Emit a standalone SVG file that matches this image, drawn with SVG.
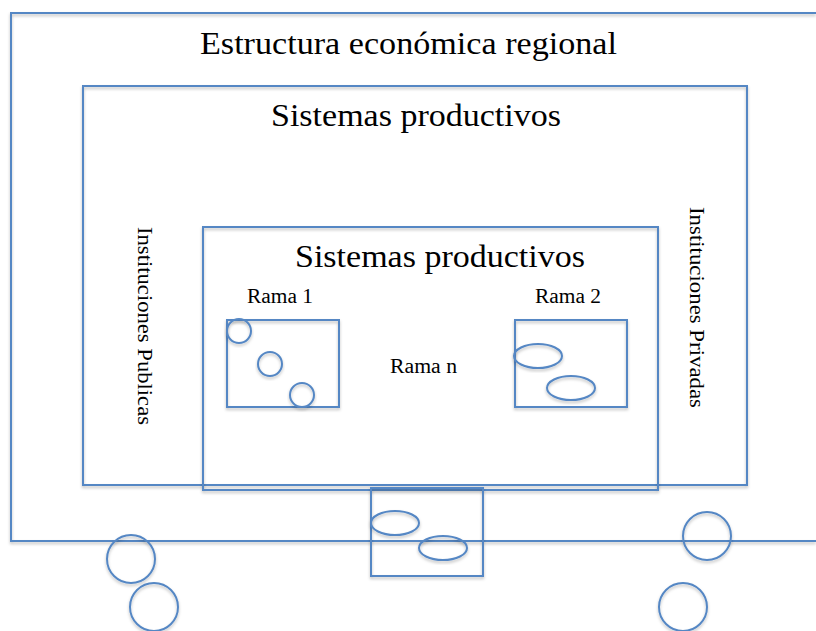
<svg xmlns="http://www.w3.org/2000/svg" width="816" height="631" viewBox="0 0 816 631">
<defs>
<filter id="sh" x="-10%" y="-10%" width="120%" height="130%">
<feDropShadow dx="0" dy="2" stdDeviation="1.5" flood-color="#000" flood-opacity="0.25"/>
</filter>
</defs>
<style>
.s{fill:none;stroke:#5587C4;stroke-width:2;filter:url(#sh)}
.t{font-family:"Liberation Serif","Times New Roman",serif;fill:#000}
.big{font-size:32px}
.sm{font-size:20px}
</style>
<rect width="816" height="631" fill="#fff"/>
<g id="estructura">
<path class="s" d="M816,13 H11 V541 H816"/>
<text class="t big" x="200" y="54" textLength="417" lengthAdjust="spacingAndGlyphs">Estructura económica regional</text>
</g>
<g id="sistemas-outer">
<rect class="s" x="83" y="86" width="664" height="399"/>
<text class="t big" x="271" y="126" textLength="290" lengthAdjust="spacingAndGlyphs">Sistemas productivos</text>
</g>
<g id="inst-publicas">
<text class="t sm" transform="translate(138,227) rotate(90)" textLength="198" lengthAdjust="spacingAndGlyphs">Instituciones Publicas</text>
</g>
<g id="inst-privadas">
<text class="t sm" transform="translate(690,207) rotate(90)" textLength="201" lengthAdjust="spacingAndGlyphs">Instituciones Privadas</text>
</g>
<g id="sistemas-inner">
<rect class="s" x="203" y="227" width="455" height="263"/>
<text class="t big" x="295" y="267" textLength="290" lengthAdjust="spacingAndGlyphs">Sistemas productivos</text>
</g>
<g id="rama1">
<text class="t sm" x="247" y="303" textLength="66" lengthAdjust="spacingAndGlyphs">Rama 1</text>
<rect class="s" x="227" y="320" width="112" height="87"/>
<circle class="s" cx="239" cy="331" r="12"/>
<circle class="s" cx="270" cy="364" r="12"/>
<circle class="s" cx="302" cy="395" r="12"/>
</g>
<g id="rama2">
<text class="t sm" x="535" y="303" textLength="66" lengthAdjust="spacingAndGlyphs">Rama 2</text>
<rect class="s" x="515" y="320" width="112" height="87"/>
<ellipse class="s" cx="538" cy="356" rx="24" ry="12"/>
<ellipse class="s" cx="571" cy="388" rx="24" ry="12"/>
</g>
<g id="raman">
<text class="t sm" x="390" y="373" textLength="67" lengthAdjust="spacingAndGlyphs">Rama n</text>
</g>
<g id="rama-bottom">
<rect class="s" x="371" y="488" width="112" height="88"/>
<ellipse class="s" cx="395" cy="523" rx="24" ry="12"/>
<ellipse class="s" cx="443" cy="548" rx="24" ry="12"/>
</g>
<g id="circles">
<circle class="s" cx="131" cy="559" r="24"/>
<circle class="s" cx="154" cy="607" r="24"/>
<circle class="s" cx="707" cy="536" r="24"/>
<circle class="s" cx="683" cy="607" r="24"/>
</g>
<g id="connectors"></g>
</svg>
